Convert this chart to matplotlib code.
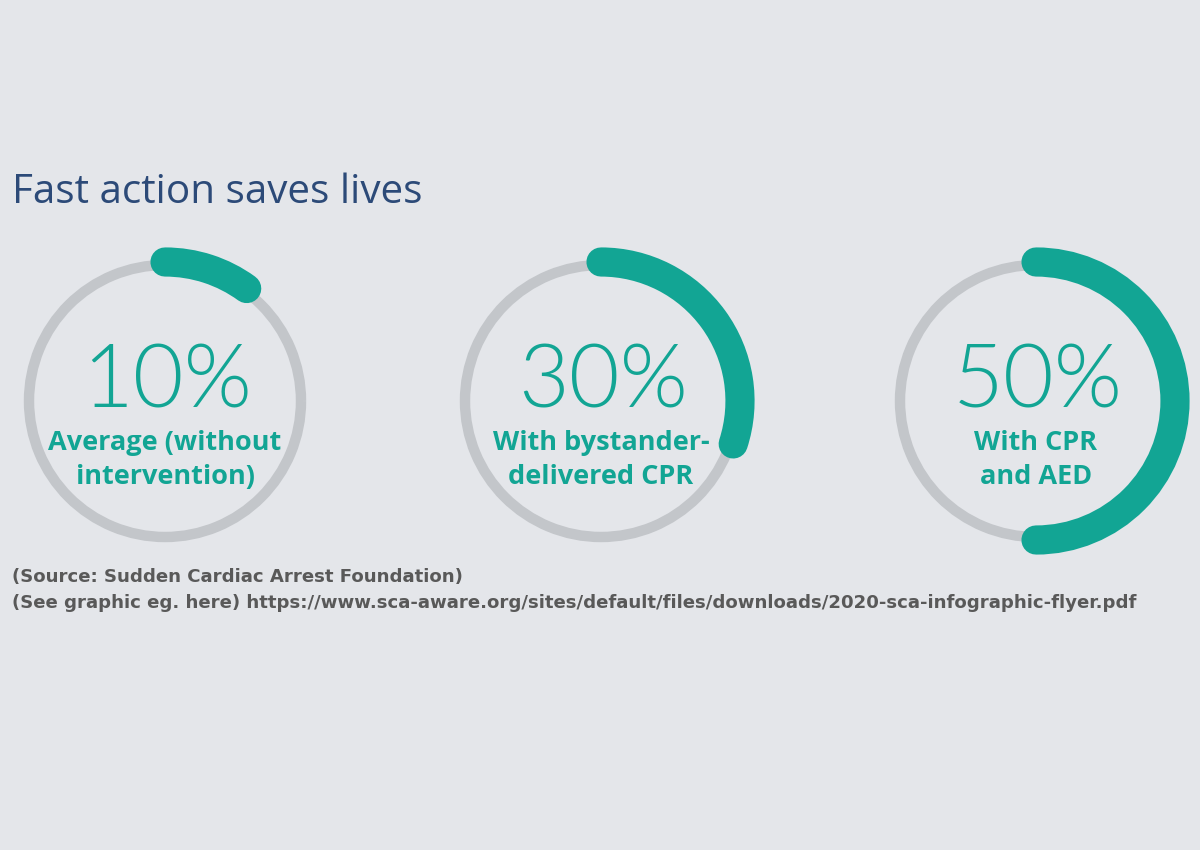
import matplotlib.pyplot as plt
from matplotlib.patches import Arc

# survival rates after sudden cardiac arrest
values = [10, 30, 50]
value_labels = ["10%", "30%", "50%"]
captions = ["Average (without\nintervention)",
            "With bystander-\ndelivered CPR",
            "With CPR\nand AED"]
title = "Fast action saves lives"
source = ["(Source: Sudden Cardiac Arrest Foundation)",
          "(See graphic eg. here) https://www.sca-aware.org/sites/default/files/downloads/2020-sca-infographic-flyer.pdf"]

bg = '#e4e6ea'
teal = '#12a594'
ring_gray = '#c3c6ca'

fig = plt.figure(figsize=(12, 8.5), dpi=100, facecolor=bg)
ax = fig.add_axes([0, 0, 1, 1])
ax.set_xlim(0, 1200)
ax.set_ylim(850, 0)
ax.set_aspect('equal')
ax.axis('off')

centers_x = [165, 601, 1036]
cy = 401

for cx, v, vl, cap in zip(centers_x, values, value_labels, captions):
    # background ring
    ax.add_patch(Arc((cx, cy), 2 * 136, 2 * 136, theta1=0, theta2=360,
                     color=ring_gray, lw=7.5))
    # progress arc, clockwise from top (y axis is inverted)
    start = -90
    ring = Arc((cx, cy), 2 * 139, 2 * 139, theta1=start,
               theta2=start + 360 * v / 100, color=teal, lw=21)
    ring.set_capstyle('round')
    ax.add_patch(ring)
    ax.text(cx + 2, 383, vl, ha='center', va='center', fontsize=63,
            color=teal, family=['Lato', 'Open Sans'], fontweight=300)
    ax.text(cx, 460, cap, ha='center', va='center', fontsize=19.5,
            color=teal, family='Open Sans', fontweight='bold',
            linespacing=1.4)

ax.text(12, 193, title, ha='left', va='center', fontsize=29.1,
        color='#2c4a78', family='Open Sans')
ax.text(12, 577, source[0], ha='left', va='center', fontsize=13.1,
        color='#595959', family='DejaVu Sans', fontweight='bold')
ax.text(12, 603, source[1], ha='left', va='center', fontsize=13.1,
        color='#595959', family='DejaVu Sans', fontweight='bold')

fig.savefig('out.png', dpi=100, facecolor=bg)
